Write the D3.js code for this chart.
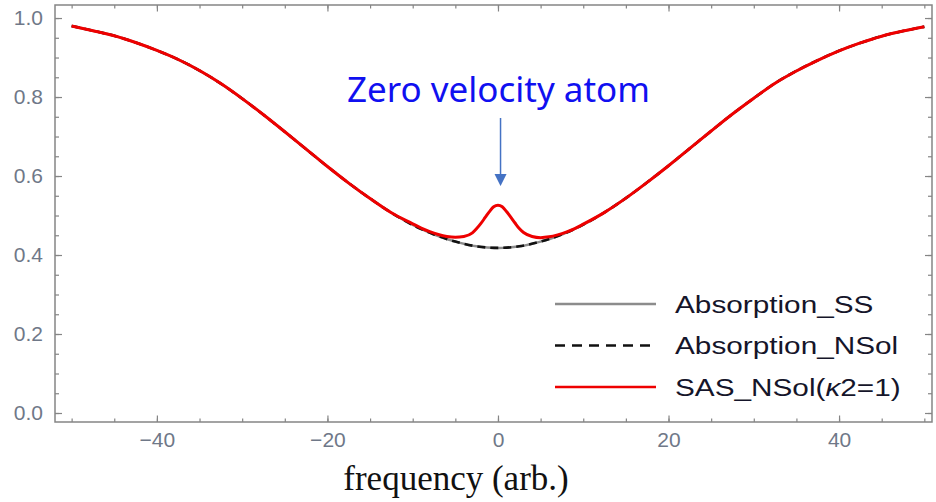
<!DOCTYPE html>
<html>
<head>
<meta charset="utf-8">
<script src="https://cdn.jsdelivr.net/npm/d3@7"></script>
<style>
  body { margin: 0; background: #fff; }
  svg { display: block; }
</style>
</head>
<body>
<svg id="chart"></svg>
<script>
// values
const freq = [-50, -47.5, -45, -42.5, -40, -37.5, -35, -32.5, -30, -27.5, -25, -22.5, -20, -17.5, -15, -12.5, -10, -7.5, -5, -2.5,
  0, 2.5, 5, 7.5, 10, 12.5, 15, 17.5, 20, 22.5, 25, 27.5, 30, 32.5, 35, 37.5, 40, 42.5, 45, 47.5, 50];
const absSS = [0.980, 0.968, 0.955, 0.938, 0.918, 0.895, 0.867, 0.834, 0.796, 0.755, 0.712, 0.668, 0.624, 0.582, 0.543, 0.507, 0.476, 0.452, 0.434, 0.422,
  0.418, 0.422, 0.434, 0.452, 0.477, 0.508, 0.544, 0.584, 0.626, 0.670, 0.714, 0.757, 0.797, 0.835, 0.866, 0.893, 0.917, 0.937, 0.954, 0.967, 0.978];
const absNSol = [0.980, 0.968, 0.955, 0.938, 0.918, 0.895, 0.867, 0.834, 0.796, 0.755, 0.712, 0.668, 0.624, 0.582, 0.543, 0.507, 0.476, 0.452, 0.434, 0.422,
  0.418, 0.422, 0.434, 0.452, 0.477, 0.508, 0.544, 0.584, 0.626, 0.670, 0.714, 0.757, 0.797, 0.835, 0.866, 0.893, 0.917, 0.937, 0.954, 0.967, 0.978];

const sasFreq = [-50, -47.5, -45, -42.5, -40, -37.5, -35, -32.5, -30, -27.5, -25, -22.5, -20, -17.5, -15, -12.5,
  -10, -9, -8, -7, -6, -5, -4, -3, -2.5, -2, -1.5, -1, -0.5, 0, 0.5, 1, 1.5, 2, 2.5, 3, 4, 5, 6, 7, 8, 9, 10,
  12.5, 15, 17.5, 20, 22.5, 25, 27.5, 30, 32.5, 35, 37.5, 40, 42.5, 45, 47.5, 50];
const sasVals = [0.980, 0.968, 0.955, 0.938, 0.918, 0.895, 0.867, 0.834, 0.796, 0.755, 0.712, 0.668, 0.624, 0.582, 0.543, 0.507,
  0.479, 0.468, 0.459, 0.452, 0.447, 0.445, 0.447, 0.456, 0.467, 0.480, 0.495, 0.510, 0.522, 0.526, 0.522, 0.510, 0.496, 0.481, 0.467, 0.457, 0.447, 0.444, 0.446, 0.451, 0.458, 0.467, 0.478,
  0.508, 0.544, 0.584, 0.626, 0.670, 0.714, 0.757, 0.797, 0.835, 0.866, 0.893, 0.917, 0.937, 0.954, 0.967, 0.978];

const xTicks = [-40, -20, 0, 20, 40];
const xMinor = d3.range(-50, 51, 5);
const yTicks = [0, 0.2, 0.4, 0.6, 0.8, 1.0];
const yMinor = d3.range(0, 1.001, 0.05);
const legendLabels = ["Absorption_SS", "Absorption_NSol", "SAS_NSol(κ2=1)"];
const annotation = "Zero velocity atom";
const xTitle = "frequency (arb.)";

var svgWidth = 936, svgHeight = 502;
var svg = d3.select("#chart")
    .attr("width", svgWidth)
    .attr("height", svgHeight);

var x = d3.scaleLinear().domain([-51.95, 50.9]).range([55, 932]);
var y = d3.scaleLinear().domain([-0.0228, 1.033]).range([422, 5]);

var frameColor = "#858585", labelColor = "#6f7888";

// frame
svg.append("rect")
    .attr("x", 55).attr("y", 5)
    .attr("width", 932 - 55).attr("height", 422 - 5)
    .attr("fill", "none")
    .attr("stroke", frameColor)
    .attr("stroke-width", 1.5);

function styleAxis(g) {
    g.select(".domain").remove();
    g.selectAll(".tick line").attr("stroke", frameColor).attr("stroke-width", 1.2);
    g.selectAll(".tick text")
        .attr("fill", labelColor)
        .attr("font-family", "Liberation Sans, Arial, sans-serif")
        .attr("font-size", 21);
}

// minor ticks (all four sides)
svg.append("g").attr("transform", "translate(0,422)")
    .call(d3.axisBottom(x).tickValues(xMinor).tickSize(-3.5).tickFormat(""))
    .call(styleAxis);
svg.append("g").attr("transform", "translate(0,5)")
    .call(d3.axisTop(x).tickValues(xMinor).tickSize(-3.5).tickFormat(""))
    .call(styleAxis);
svg.append("g").attr("transform", "translate(55,0)")
    .call(d3.axisLeft(y).tickValues(yMinor).tickSize(-4).tickFormat(""))
    .call(styleAxis);
svg.append("g").attr("transform", "translate(932,0)")
    .call(d3.axisRight(y).tickValues(yMinor).tickSize(-4).tickFormat(""))
    .call(styleAxis);

// major ticks
svg.append("g").attr("transform", "translate(0,422)")
    .call(d3.axisBottom(x).tickValues(xTicks).tickSize(-6.5).tickPadding(10))
    .call(styleAxis);
svg.append("g").attr("transform", "translate(0,5)")
    .call(d3.axisTop(x).tickValues(xTicks).tickSize(-6.5).tickFormat(""))
    .call(styleAxis);
svg.append("g").attr("transform", "translate(55,0)")
    .call(d3.axisLeft(y).tickValues(yTicks).tickSize(-7).tickPadding(12).tickFormat(d3.format(".1f")))
    .call(styleAxis);
svg.append("g").attr("transform", "translate(932,0)")
    .call(d3.axisRight(y).tickValues(yTicks).tickSize(-7).tickFormat(""))
    .call(styleAxis);

// curves
var line = d3.line()
    .x(d => x(d[0]))
    .y(d => y(d[1]))
    .curve(d3.curveMonotoneX);

svg.append("path")
    .datum(d3.zip(freq, absSS))
    .attr("fill", "none")
    .attr("stroke", "#8c8c8c")
    .attr("stroke-width", 2.5)
    .attr("d", line);

svg.append("path")
    .datum(d3.zip(freq, absNSol))
    .attr("fill", "none")
    .attr("stroke", "#111")
    .attr("stroke-width", 2.6)
    .attr("stroke-dasharray", "8,5")
    .attr("d", line);

svg.append("path")
    .datum(d3.zip(sasFreq, sasVals))
    .attr("fill", "none")
    .attr("stroke", "#ee0000")
    .attr("stroke-width", 3)
    .attr("stroke-linejoin", "round")
    .attr("d", line);

// legend
var legendStyles = [
    { stroke: "#8c8c8c", dash: null },
    { stroke: "#111", dash: "10,7" },
    { stroke: "#ee0000", dash: null }
];
var legend = svg.append("g");
legendLabels.forEach(function (label, i) {
    var ly = 304 + i * 41.5;
    legend.append("line")
        .attr("x1", 555).attr("x2", 656)
        .attr("y1", ly).attr("y2", ly)
        .attr("stroke", legendStyles[i].stroke)
        .attr("stroke-width", 2.6)
        .attr("stroke-dasharray", legendStyles[i].dash);
    var t = legend.append("text")
        .attr("transform", "translate(675," + (ly + 8.5) + ") scale(1.24,1)")
        .attr("font-family", "Liberation Sans, Arial, sans-serif")
        .attr("font-size", 24)
        .attr("fill", "#15152a");
    var k = label.indexOf("κ");
    if (k >= 0) {
        t.append("tspan").text(label.slice(0, k));
        t.append("tspan").attr("font-style", "italic").text("κ");
        t.append("tspan").text(label.slice(k + 1));
    } else {
        t.text(label);
    }
});

// annotation
svg.append("text")
    .attr("x", 347).attr("y", 102)
    .attr("font-family", "Noto Sans, sans-serif")
    .attr("font-size", 35)
    .attr("fill", "#1010f0")
    .attr("textLength", 303)
    .attr("lengthAdjust", "spacingAndGlyphs")
    .text(annotation);

svg.append("line")
    .attr("x1", x(0.3)).attr("x2", x(0.3))
    .attr("y1", 118).attr("y2", 176)
    .attr("stroke", "#4472c4")
    .attr("stroke-width", 1.5);
svg.append("path")
    .attr("d", "M" + (x(0.3) - 6) + ",174 L" + (x(0.3) + 6) + ",174 L" + x(0.3) + ",186 Z")
    .attr("fill", "#4472c4");

// x title
svg.append("text")
    .attr("x", 456).attr("y", 490)
    .attr("text-anchor", "middle")
    .attr("font-family", "Liberation Serif, Times New Roman, serif")
    .attr("font-size", 35)
    .attr("fill", "#111")
    .text(xTitle);
</script>
</body>
</html>
